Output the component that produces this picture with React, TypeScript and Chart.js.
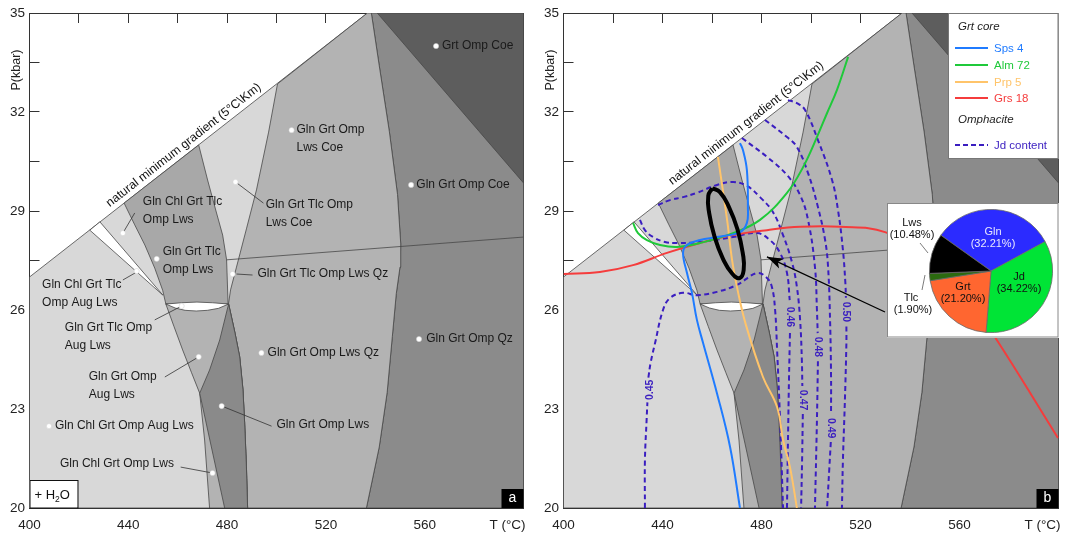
import React, { useEffect, useRef } from 'react';
import { Chart, registerables } from 'chart.js';

Chart.register(...registerables);

type Pt = [number, number];
type MaybePt = Pt | null;

const FONT = "'Liberation Sans', Arial, Helvetica, sans-serif";
Chart.defaults.font.family = FONT;
Chart.defaults.color = '#222';

// ---------------- axes ----------------
const T_RANGE: Pt = [400, 600];
const P_RANGE: Pt = [20, 35];
const T_TICK_STEP = 20;
const T_LABEL_STEP = 40;
const P_TICK_STEP = 1.5;
const P_LABEL_STEP = 3;
const X_TITLE = 'T (°C)';
const Y_TITLE = 'P(kbar)';
const GRADIENT_LABEL = 'natural minimum gradient (5°C\\Km)';

// ---------------- phase-field geometry (T °C, P kbar) ----------------
const gradientLine: Pt[] = [[400, 27.0], [536.8, 35]];
const belowGradientField: Pt[] = [[400, 20], [400, 27.0], [536.8, 35], [600, 35], [600, 20]];
const boundaryD: Pt[] = [[500.4, 32.85], [496.8, 31.39], [491.9, 29.64], [487.9, 28.48], [483.8, 27.3], [481.4, 26.61], [480.6, 26.2]];
const boundaryE: Pt[] = [[538.4, 35], [541.6, 33.4], [545.7, 31.4], [549.0, 29.5], [550.3, 28.0], [550.0, 27.3], [548.5, 26.5], [546.9, 25.2], [544.8, 23.5], [541.6, 21.85], [536.4, 20]];
const tlcLeftEdge: Pt[] = [[438.3, 29.24], [442.6, 28.58], [446.7, 27.97], [450.7, 27.27], [453.9, 26.6], [455.2, 26.18]];
const tlcRightEdge: Pt[] = [[468.5, 31.0], [472.1, 29.94], [475.5, 29.0], [478.2, 28.27], [479.8, 27.52], [480.4, 26.18]];
const wedgeRightEdge: Pt[] = [[480.6, 26.18], [483.2, 25.3], [485.1, 24.58], [486.4, 23.6], [487.1, 22.58], [487.8, 21.3], [488.3, 20]];
const augRightEdge: Pt[] = [[480.6, 26.18], [477.0, 25.09], [472.9, 24.18], [468.9, 23.48]];
const augLeftEdge: Pt[] = [[455.2, 26.18], [458.5, 25.5], [462.0, 24.79], [465.6, 24.1], [468.9, 23.48]];
const chlEdge: Pt[] = [[468.9, 23.48], [470.9, 22.06], [472.9, 20]];
const wedgeLeftEdge: Pt[] = [[468.9, 23.48], [479.0, 20]];
const whiteSliver: Pt[] = [[424.4, 28.42], [428.5, 28.67], [454.0, 26.45]];
const whiteLens: Pt[] = [[455.2, 26.18], [461.5, 26.22], [467.8, 26.24], [474.1, 26.22], [480.6, 26.18], [476.5, 26.05], [472.0, 25.99], [467.5, 25.97], [463.0, 25.99], [459.0, 26.06]];
const coeQzLine: Pt[] = [[479.8, 27.52], [600, 28.21]];
const grtOmpCoeField: Pt[] = [[540.8, 35], [600, 35], [600, 29.85]];

// ---------------- field labels (panel a) ----------------
const fieldLabelLines: string[][] = [
  ['Grt Omp Coe'],
  ['Gln Grt Omp', 'Lws Coe'],
  ['Gln Grt Omp Coe'],
  ['Gln Grt Tlc Omp', 'Lws Coe'],
  ['Gln Chl Grt Tlc', 'Omp Lws'],
  ['Gln Grt Tlc', 'Omp Lws'],
  ['Gln Grt Tlc Omp Lws Qz'],
  ['Gln Chl Grt Tlc', 'Omp Aug Lws'],
  ['Gln Grt Tlc Omp', 'Aug Lws'],
  ['Gln Grt Omp', 'Aug Lws'],
  ['Gln Chl Grt Omp Aug Lws'],
  ['Gln Chl Grt Omp Lws'],
  ['Gln Grt Omp Lws'],
  ['Gln Grt Omp Lws Qz'],
  ['Gln Grt Omp Qz'],
];
const fieldLabelT: number[] = [567.0, 508.1, 556.6, 495.6, 445.9, 453.9, 492.3, 405.1, 414.3, 424.0, 410.3, 412.3, 500.0, 496.4, 560.6];
const fieldLabelP: number[] = [34.0, 31.45, 29.79, 29.18, 29.27, 27.76, 27.09, 26.76, 25.45, 23.97, 22.48, 21.33, 22.52, 24.70, 25.12];
const fieldDotT: number[] = [564.6, 506.1, 554.5, 483.4, 437.8, 451.5, 482.2, 443.4, 461.6, 468.5, 407.9, 474.1, 477.8, 493.9, 557.7];
const fieldDotP: number[] = [34.0, 31.45, 29.79, 29.88, 28.33, 27.55, 27.09, 27.18, 26.12, 24.58, 22.48, 21.06, 23.09, 24.70, 25.12];
const leaderLines: [Pt, Pt][] = [
  [[483.4, 29.88], [494.7, 29.24]],
  [[437.8, 28.33], [442.6, 28.94]],
  [[483.8, 27.09], [490.3, 27.06]],
  [[437.8, 26.91], [443.4, 27.15]],
  [[450.7, 25.70], [461.6, 26.12]],
  [[454.8, 23.97], [468.5, 24.58]],
  [[461.2, 21.24], [474.1, 21.06]],
  [[477.8, 23.09], [498.0, 22.48]],
];

// ---------------- garnet core isopleths (panel b) ----------------
const spsIsopleth: Pt[] = [[471.3, 31.06], [472.5, 30.85], [474.1, 30.24], [474.5, 29.12], [474.1, 28.64], [471.3, 28.36], [462.0, 28.21], [455.2, 28.12], [449.9, 27.97], [448.3, 27.73], [449.9, 27.12], [451.9, 26.52], [453.9, 25.70], [456.4, 25.0], [462.0, 23.48], [467.3, 21.85], [471.3, 20.0]];
const almIsopleth: Pt[] = [[428.1, 28.64], [430.1, 28.33], [433.7, 28.12], [439.0, 27.97], [445.9, 27.91], [455.2, 28.03], [468.5, 28.33], [479.4, 28.73], [490.3, 29.55], [496.8, 30.33], [502.4, 31.24], [506.5, 31.97], [510.5, 32.67], [515.0, 33.67]];
const prpIsopleth: Pt[] = [[462.4, 30.64], [466.1, 28.73], [468.1, 27.52], [470.5, 26.55], [473.7, 25.55], [480.6, 23.97], [486.3, 23.06], [488.7, 22.06], [491.5, 21.24], [494.3, 20.0]];
const grsIsopleth: Pt[] = [[400, 27.09], [414.7, 27.15], [428.1, 27.36], [441.8, 27.73], [455.2, 28.03], [468.5, 28.27], [482.2, 28.42], [495.6, 28.52], [511.7, 28.52], [529.9, 28.36], [548.1, 27.58], [562.2, 26.45], [574.3, 25.18], [599.8, 22.12]];
const garnetLegendLabels: string[] = ['Sps 4', 'Alm 72', 'Prp 5', 'Grs 18'];

// ---------------- omphacite Jd isopleths ----------------
const jd045: MaybePt[] = [[432.9, 20.0], [432.9, 21.45], [433.6, 22.7], [433.9, 23.2], null, [434.3, 23.95], [435.2, 24.4], [437.0, 25.0], [440.2, 26.0], [443.0, 26.36], [448.3, 26.52], [453.9, 26.45], [462.0, 26.55], [470.1, 26.76], [478.2, 27.12], [482.2, 26.97], [484.2, 26.70], [485.5, 26.0], [486.3, 24.79], [487.5, 22.67], [488.7, 20.0]];
const jd046: MaybePt[] = [[430.9, 28.73], [432.9, 28.42], [436.2, 28.21], [441.0, 28.06], [445.9, 28.03], [455.2, 28.06], [468.5, 28.21], [478.2, 28.33], [483.4, 28.12], [487.5, 27.73], [490.3, 27.12], [491.4, 26.3], null, [491.5, 25.3], [491.1, 23.88], [490.7, 22.06], [490.3, 20.0]];
const jd047: MaybePt[] = [[438.2, 29.18], [443.0, 29.33], [448.3, 29.42], [453.9, 29.55], [462.0, 29.79], [468.5, 29.88], [474.1, 29.76], [479.4, 29.42], [484.6, 28.97], [488.7, 28.27], [492.3, 27.45], [494.3, 26.70], [495.6, 25.70], [496.3, 24.5], [496.5, 23.7], null, [496.7, 22.85], [496.4, 21.45], [496.0, 20.0]];
const jd048: MaybePt[] = [[472.1, 31.21], [482.2, 30.64], [490.3, 30.09], [495.6, 29.48], [498.8, 28.73], [501.6, 27.30], [502.4, 26.0], [502.7, 25.3], null, [502.8, 24.45], [502.4, 22.67], [501.6, 20.0]];
const jd049: MaybePt[] = [[481.4, 31.76], [490.3, 31.24], [494.3, 30.94], [498.8, 30.15], [502.8, 29.12], [505.7, 28.12], [506.9, 27.30], [507.7, 25.70], [508.1, 24.0], [508.1, 22.85], null, [508.0, 22.0], [507.4, 21.2], [506.5, 20.0]];
const jd050: MaybePt[] = [[490.7, 32.36], [494.3, 32.27], [497.6, 32.06], [502.8, 31.15], [508.5, 29.94], [510.9, 29.03], [512.9, 27.82], [513.9, 26.8], [514.1, 26.37], null, [514.3, 25.5], [514.3, 25.0], [513.7, 23.27], [512.9, 21.45], [512.5, 20.0]];
const jdContours: MaybePt[][] = [jd045, jd046, jd047, jd048, jd049, jd050];
const jdLabels: string[] = ['0.45', '0.46', '0.47', '0.48', '0.49', '0.50'];
const jdLabelT: number[] = [435.0, 491.5, 496.6, 502.8, 508.1, 514.2];
const jdLabelP: number[] = [23.58, 25.79, 23.27, 24.88, 22.42, 25.94];
const jdLabelRot: number[] = [-90, 90, 90, 90, 90, 90];
const jdLegendLabel = 'Jd content';

// ---------------- peak-estimate ellipse and arrow ----------------
const peakEllipse: Pt[] = [[460.1, 29.69], [463.2, 29.57], [466.9, 29.11], [470.3, 28.44], [472.4, 27.74], [472.8, 27.21], [471.2, 26.97], [468.2, 27.10], [464.4, 27.56], [461.0, 28.23], [458.9, 28.92], [458.5, 29.46]];
const pieArrow: Pt[] = [[529.9, 25.94], [482.2, 27.61]];

// ---------------- modal proportions (pie) ----------------
const pieLabels: string[] = ['Gln', 'Jd', 'Grt', 'Tlc', 'Lws'];
const pieValues: number[] = [32.21, 34.22, 21.20, 1.90, 10.48];

// ---------------- styles ----------------
const C_LIGHT = '#d8d8d8';
const C_MID = '#b3b3b3';
const C_TLC = '#a8a8a8';
const C_WEDGE = '#8a8a8a';
const C_DARK = '#8b8b8b';
const C_DARKEST = '#5d5d5d';
const EDGE = '#474747';
const AXIS = '#333333';
const C_SPS = '#1f7bff';
const C_ALM = '#1fc93a';
const C_PRP = '#ffc46a';
const C_GRS = '#f53c3c';
const C_JD = '#3a1ec0';
const PIE_COLORS = ['#2b2bff', '#00e436', '#ff6630', '#2b6a0f', '#000000'];

const xy = (pts: MaybePt[]) => pts.map(p => (p ? { x: p[0], y: p[1] } : { x: NaN, y: NaN }));
const rev = (a: Pt[]): Pt[] => [...a].reverse();

function polygonDs(pts: Pt[], color: string): any {
  return {
    data: xy([...pts, pts[0]]),
    fill: 'shape',
    backgroundColor: color,
    borderColor: EDGE,
    borderWidth: 0.8,
    borderJoinStyle: 'round',
    pointRadius: 0,
    tension: 0,
  };
}

function lineDs(pts: MaybePt[], color: string, width: number, extra: any = {}): any {
  return {
    data: xy(pts),
    fill: false,
    borderColor: color,
    backgroundColor: color,
    borderWidth: width,
    pointRadius: 0,
    tension: 0.4,
    spanGaps: false,
    ...extra,
  };
}

function withOrder(ds: any[]) {
  return ds.map((d, i) => ({ ...d, order: 1000 - i }));
}

function fieldDatasets(): any[] {
  const midField: Pt[] = [...boundaryD, ...wedgeRightEdge.slice(1), ...rev(boundaryE), [536.8, 35]];
  const darkField: Pt[] = [...boundaryE, [600, 20], [600, 35]];
  const tlcField: Pt[] = [...tlcRightEdge, ...rev(tlcLeftEdge)];
  const lowerMid: Pt[] = [...augLeftEdge, ...chlEdge.slice(1), ...rev(wedgeRightEdge)];
  const wedge: Pt[] = [...wedgeRightEdge, ...rev(wedgeLeftEdge), ...rev(augRightEdge).slice(1)];
  return [
    polygonDs(belowGradientField, C_LIGHT),
    polygonDs(darkField, C_DARK),
    polygonDs(grtOmpCoeField, C_DARKEST),
    polygonDs(midField, C_MID),
    polygonDs(tlcField, C_TLC),
    polygonDs(whiteSliver, '#ffffff'),
    polygonDs(lowerMid, C_MID),
    polygonDs(wedge, C_WEDGE),
    polygonDs(whiteLens, '#ffffff'),
    lineDs(coeQzLine, EDGE, 0.8, { tension: 0 }),
  ];
}

function buildScales(yWidth: number): any {
  const grid = { display: true, drawOnChartArea: false, drawTicks: true, tickLength: -10, tickColor: AXIS, tickWidth: 1 };
  const border = { display: true, color: AXIS, width: 1 };
  const tickFont = { family: FONT, size: 13.5 };
  const fitH = (h: number) => (s: any) => { s.height = h; s.paddingLeft = 0; s.paddingRight = 0; s.paddingTop = 0; s.paddingBottom = 0; };
  const fitW = (w: number) => (s: any) => { s.width = w; s.paddingLeft = 0; s.paddingRight = 0; s.paddingTop = 0; s.paddingBottom = 0; };
  return {
    x: {
      type: 'linear', position: 'bottom', min: T_RANGE[0], max: T_RANGE[1], z: 1, grid, border,
      afterFit: fitH(31),
      ticks: {
        stepSize: T_TICK_STEP, autoSkip: false, maxRotation: 0, minRotation: 0, padding: 19, color: '#222', font: tickFont,
        callback: (v: number) => (v % T_LABEL_STEP === 0 && v < T_RANGE[1] ? String(v) : ''),
      },
    },
    xTop: {
      type: 'linear', position: 'top', min: T_RANGE[0], max: T_RANGE[1], z: 1, grid, border,
      afterFit: fitH(0),
      ticks: { stepSize: T_TICK_STEP, autoSkip: false, display: false },
    },
    y: {
      type: 'linear', position: 'left', min: P_RANGE[0], max: P_RANGE[1], z: 1, grid, border,
      afterFit: fitW(yWidth),
      ticks: {
        stepSize: P_TICK_STEP, autoSkip: false, padding: 14.5, color: '#222', font: tickFont,
        callback: (v: number) => {
          const k = (v - P_RANGE[0]) / P_LABEL_STEP;
          return Math.abs(k - Math.round(k)) < 1e-6 ? String(Math.round(v)) : '';
        },
      },
    },
    yRight: {
      type: 'linear', position: 'right', min: P_RANGE[0], max: P_RANGE[1], z: 1, grid, border,
      afterFit: fitW(0),
      ticks: { stepSize: P_TICK_STEP, autoSkip: false, display: false },
    },
  };
}

function drawGradientText(chart: any, tStart: number) {
  const { ctx } = chart;
  const xs = chart.scales.x, ys = chart.scales.y;
  const [a, b] = gradientLine;
  const x0 = xs.getPixelForValue(a[0]), y0 = ys.getPixelForValue(a[1]);
  const x1 = xs.getPixelForValue(b[0]), y1 = ys.getPixelForValue(b[1]);
  const ang = Math.atan2(y1 - y0, x1 - x0);
  const f = (tStart - a[0]) / (b[0] - a[0]);
  ctx.save();
  ctx.translate(x0 + f * (x1 - x0), y0 + f * (y1 - y0));
  ctx.rotate(ang);
  ctx.font = `12.3px ${FONT}`;
  ctx.fillStyle = '#111';
  ctx.textAlign = 'left';
  ctx.textBaseline = 'alphabetic';
  ctx.fillText(GRADIENT_LABEL, 0, -5.5);
  ctx.restore();
}

function drawFrameTexts(chart: any, letter: string) {
  const { ctx, chartArea: ca } = chart;
  ctx.save();
  ctx.translate(ca.left - 12.5, 70);
  ctx.rotate(-Math.PI / 2);
  ctx.font = `12.5px ${FONT}`;
  ctx.fillStyle = '#222';
  ctx.textAlign = 'center';
  ctx.textBaseline = 'middle';
  ctx.fillText(Y_TITLE, 0, 0);
  ctx.restore();
  ctx.save();
  ctx.font = `13.5px ${FONT}`;
  ctx.fillStyle = '#222';
  ctx.textAlign = 'center';
  ctx.textBaseline = 'middle';
  ctx.fillText(X_TITLE, ca.right - 16, ca.bottom + 17);
  ctx.fillStyle = '#000';
  ctx.fillRect(ca.right - 22, ca.bottom - 19, 22, 19);
  ctx.fillStyle = '#fff';
  ctx.font = `14px ${FONT}`;
  ctx.fillText(letter, ca.right - 11, ca.bottom - 9.5);
  ctx.restore();
}

const leftDecor = {
  id: 'leftDecor',
  afterDatasetsDraw(chart: any) {
    const { ctx } = chart;
    const xs = chart.scales.x, ys = chart.scales.y;
    ctx.save();
    ctx.fillStyle = '#1a1a1a';
    ctx.font = `12px ${FONT}`;
    ctx.textAlign = 'left';
    ctx.textBaseline = 'middle';
    fieldLabelLines.forEach((lines, i) => {
      const x = xs.getPixelForValue(fieldLabelT[i]);
      const y = ys.getPixelForValue(fieldLabelP[i]);
      lines.forEach((s, j) => ctx.fillText(s, x, y + j * 18));
    });
    ctx.restore();
    drawGradientText(chart, 433.9);
  },
  afterDraw(chart: any) {
    const { ctx, chartArea: ca } = chart;
    drawFrameTexts(chart, 'a');
    ctx.save();
    const x0 = ca.left, y0 = 480, w = 48, h = ca.bottom - 480;
    ctx.fillStyle = '#fff';
    ctx.fillRect(x0, y0, w, h);
    ctx.strokeStyle = '#111';
    ctx.lineWidth = 1;
    ctx.strokeRect(x0 + 0.5, y0 + 0.5, w, h - 0.5);
    ctx.fillStyle = '#111';
    ctx.textAlign = 'left';
    ctx.textBaseline = 'middle';
    ctx.font = `13px ${FONT}`;
    let x = x0 + 5;
    ctx.fillText('+ H', x, 495);
    x += ctx.measureText('+ H').width;
    ctx.font = `8.5px ${FONT}`;
    ctx.fillText('2', x, 500);
    x += ctx.measureText('2').width;
    ctx.font = `13px ${FONT}`;
    ctx.fillText('O', x, 495);
    ctx.restore();
  },
};

const rightDecor = {
  id: 'rightDecor',
  afterDatasetsDraw(chart: any) {
    const { ctx } = chart;
    const xs = chart.scales.x, ys = chart.scales.y;
    drawGradientText(chart, 445.3);
    ctx.save();
    ctx.fillStyle = C_JD;
    ctx.font = `bold 10.5px ${FONT}`;
    ctx.textAlign = 'center';
    ctx.textBaseline = 'middle';
    jdLabels.forEach((s, i) => {
      ctx.save();
      ctx.translate(xs.getPixelForValue(jdLabelT[i]), ys.getPixelForValue(jdLabelP[i]));
      ctx.rotate((jdLabelRot[i] * Math.PI) / 180);
      ctx.fillText(s, 0, 0);
      ctx.restore();
    });
    ctx.restore();
    const [s, e] = pieArrow;
    const sx = xs.getPixelForValue(s[0]), sy = ys.getPixelForValue(s[1]);
    const ex = xs.getPixelForValue(e[0]), ey = ys.getPixelForValue(e[1]);
    const len = Math.hypot(ex - sx, ey - sy);
    const ux = (ex - sx) / len, uy = (ey - sy) / len;
    const nx = -uy, ny = ux;
    ctx.save();
    ctx.fillStyle = '#000';
    ctx.beginPath();
    ctx.moveTo(ex, ey);
    ctx.lineTo(ex - 16 * ux + 5.5 * nx, ey - 16 * uy + 5.5 * ny);
    ctx.lineTo(ex - 12 * ux, ey - 12 * uy);
    ctx.lineTo(ex - 16 * ux - 5.5 * nx, ey - 16 * uy - 5.5 * ny);
    ctx.closePath();
    ctx.fill();
    ctx.restore();
  },
  afterDraw(chart: any) {
    const { ctx, chartArea: ca } = chart;
    drawFrameTexts(chart, 'b');
    const bw = 110.5, bh = 146;
    const bx = ca.right - bw, by = ca.top;
    ctx.save();
    ctx.fillStyle = '#fff';
    ctx.fillRect(bx, by, bw, bh);
    ctx.strokeStyle = '#777';
    ctx.lineWidth = 1;
    ctx.strokeRect(bx + 0.5, by + 0.5, bw - 1, bh - 1);
    ctx.textAlign = 'left';
    ctx.textBaseline = 'middle';
    ctx.fillStyle = '#222';
    ctx.font = `italic 11.5px ${FONT}`;
    ctx.fillText('Grt core', bx + 10, by + 14);
    ctx.fillText('Omphacite', bx + 10, by + 107);
    const colors = [C_SPS, C_ALM, C_PRP, C_GRS];
    const rows = [35, 52, 69, 85];
    ctx.font = `11.5px ${FONT}`;
    garnetLegendLabels.forEach((lab, i) => {
      ctx.strokeStyle = colors[i];
      ctx.lineWidth = 2;
      ctx.beginPath();
      ctx.moveTo(bx + 7, by + rows[i]);
      ctx.lineTo(bx + 40, by + rows[i]);
      ctx.stroke();
      ctx.fillStyle = colors[i];
      ctx.fillText(lab, bx + 46, by + rows[i] + 0.5);
    });
    ctx.strokeStyle = C_JD;
    ctx.lineWidth = 2;
    ctx.setLineDash([5, 3]);
    ctx.beginPath();
    ctx.moveTo(bx + 7, by + 132);
    ctx.lineTo(bx + 40, by + 132);
    ctx.stroke();
    ctx.setLineDash([]);
    ctx.fillStyle = C_JD;
    ctx.fillText(jdLegendLabel, bx + 46, by + 132.5);
    ctx.restore();
  },
};

const pieDecor = {
  id: 'pieDecor',
  beforeDraw(chart: any) {
    const { ctx, width, height } = chart;
    ctx.save();
    ctx.fillStyle = '#fff';
    ctx.fillRect(0, 0, width, height);
    ctx.strokeStyle = '#888';
    ctx.lineWidth = 1;
    ctx.strokeRect(0.5, 0.5, width - 1.5, height - 1.5);
    ctx.restore();
  },
  afterDraw(chart: any) {
    const { ctx } = chart;
    const arc = chart.getDatasetMeta(0).data[0];
    const cx = arc.x, cy = arc.y;
    const pos: Pt[] = [[2, -39], [28, 6], [-28, 16], [-80, 27], [-79, -48]];
    const colors = ['#e8e8ff', '#111', '#111', '#111', '#111'];
    ctx.save();
    ctx.font = `11px ${FONT}`;
    ctx.textAlign = 'center';
    ctx.textBaseline = 'middle';
    pieLabels.forEach((lab, i) => {
      ctx.fillStyle = colors[i];
      ctx.fillText(lab, cx + pos[i][0], cy + pos[i][1]);
      ctx.fillText(`(${pieValues[i].toFixed(2)}%)`, cx + pos[i][0] + (i === 3 ? 2 : 0), cy + pos[i][1] + 12);
    });
    ctx.strokeStyle = '#444';
    ctx.lineWidth = 0.7;
    ctx.beginPath();
    ctx.moveTo(cx - 71, cy - 28);
    ctx.lineTo(cx - 63, cy - 18);
    ctx.moveTo(cx - 69, cy + 19);
    ctx.lineTo(cx - 66, cy + 4);
    ctx.stroke();
    ctx.restore();
  },
};

function leftConfig(): any {
  const datasets = withOrder([
    ...fieldDatasets(),
    ...leaderLines.map(l => lineDs(l, '#333', 0.8, { tension: 0 })),
    {
      data: xy(fieldDotT.map((t, i) => [t, fieldDotP[i]] as Pt)),
      showLine: false, pointRadius: 2.6, pointBackgroundColor: '#ffffff', pointBorderColor: '#cccccc', pointBorderWidth: 0.5,
    },
  ]);
  return {
    type: 'line',
    data: { datasets },
    options: {
      responsive: false, animation: false, events: [],
      layout: { padding: { left: 0, right: 9.5, top: 13, bottom: 0 } },
      scales: buildScales(29.5),
      plugins: { legend: { display: false }, tooltip: { enabled: false } },
    },
    plugins: [leftDecor],
  };
}

function rightConfig(): any {
  const datasets = withOrder([
    ...fieldDatasets(),
    ...jdContours.map(c => lineDs(c, C_JD, 2, { borderDash: [5, 3.5] })),
    lineDs(grsIsopleth, C_GRS, 2),
    lineDs(prpIsopleth, C_PRP, 2),
    lineDs(almIsopleth, C_ALM, 2),
    lineDs(spsIsopleth, C_SPS, 2),
    lineDs([...peakEllipse, peakEllipse[0]], '#000', 4, { tension: 0.5 }),
    lineDs(pieArrow, '#000', 1.3, { tension: 0 }),
  ]);
  return {
    type: 'line',
    data: { datasets },
    options: {
      responsive: false, animation: false, events: [],
      layout: { padding: { left: 0, right: 6.5, top: 13, bottom: 0 } },
      scales: buildScales(30.5),
      plugins: { legend: { display: false }, tooltip: { enabled: false } },
    },
    plugins: [rightDecor],
  };
}

function pieConfig(): any {
  return {
    type: 'pie',
    data: {
      labels: pieLabels,
      datasets: [{ data: pieValues, backgroundColor: PIE_COLORS, borderColor: '#6a6a6a', borderWidth: 0.8 }],
    },
    options: {
      responsive: false, animation: false, events: [],
      rotation: 305.5,
      layout: { padding: { left: 42, right: 6, top: 6, bottom: 5 } },
      plugins: { legend: { display: false }, tooltip: { enabled: false } },
    },
    plugins: [pieDecor],
  };
}

export default function App() {
  const leftRef = useRef<HTMLCanvasElement>(null);
  const rightRef = useRef<HTMLCanvasElement>(null);
  const pieRef = useRef<HTMLCanvasElement>(null);
  useEffect(() => {
    const charts: Chart[] = [];
    if (leftRef.current) charts.push(new Chart(leftRef.current, leftConfig()));
    if (rightRef.current) charts.push(new Chart(rightRef.current, rightConfig()));
    if (pieRef.current) charts.push(new Chart(pieRef.current, pieConfig()));
    return () => charts.forEach(c => c.destroy());
  }, []);
  return (
    <div style={{ position: 'fixed', left: 0, top: 0, width: 1065, height: 539, background: '#fff', overflow: 'hidden' }}>
      <canvas ref={leftRef} width={533} height={539} style={{ position: 'absolute', left: 0, top: 0, width: 533, height: 539 }} />
      <canvas ref={rightRef} width={532} height={539} style={{ position: 'absolute', left: 533, top: 0, width: 532, height: 539 }} />
      <canvas ref={pieRef} width={172} height={135} style={{ position: 'absolute', left: 887, top: 203, width: 172, height: 135 }} />
    </div>
  );
}
